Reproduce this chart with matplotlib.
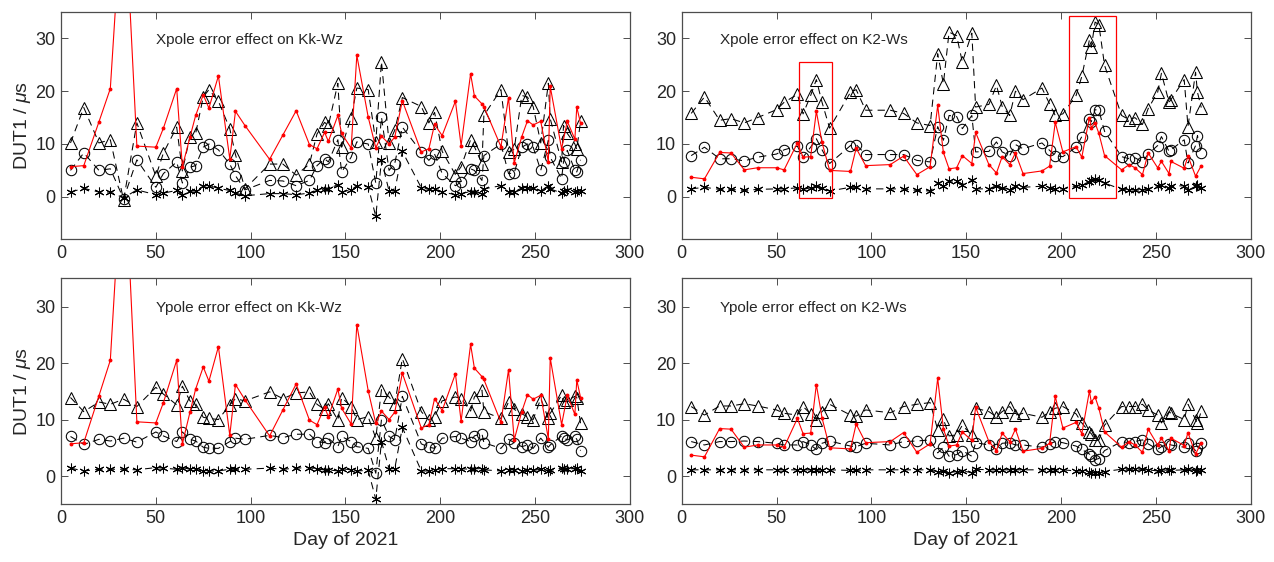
import numpy as np
import matplotlib
matplotlib.use("Agg")
import matplotlib.pyplot as plt
from matplotlib.patches import Rectangle

nan = np.nan

# ---------------- Kk-Wz baseline ----------------
kk_days = [5, 12, 20, 26, 33, 40, 50, 54, 61, 64, 68, 71, 75, 78, 83, 89, 92, 97,
           110, 117, 124, 131, 135, 139, 141, 146, 148, 153, 156, 162, 166, 169,
           173, 176, 180, 190, 194, 197, 201, 208, 211, 216, 218, 222, 223, 232,
           236, 239, 243, 246, 249, 253, 257, 258, 264, 265, 267, 271, 272, 274]
kk_red = [5.7, 5.9, 14.2, 20.5, 60.0, 9.6, 9.4, 13.0, 20.5, 5.7, 11.3, 15.4, 19.3,
          16.8, 22.9, 7.2, 16.2, 13.5, 7.1, 11.7, 16.3, 9.9, 9.1, 12.2, 10.5, 15.4,
          12.0, 9.2, 26.8, 15.1, 9.3, 11.5, 10.0, 11.3, 18.2, 8.5, 9.1, 13.7, 11.6,
          18.1, 9.7, 23.3, 19.1, 17.6, 17.1, 9.5, 18.8, 6.4, 11.4, 14.4, 13.6, 14.3,
          6.6, 20.9, 9.1, nan, 14.3, 10.9, 17.0, 13.9]
kk_x_tri = [10.2, 16.9, 10.2, 10.8, -0.6, 14.0, 3.9, 8.3, 13.2, 4.9, 11.4, 12.0,
            18.9, 20.3, 18.1, 12.9, 8.0, 1.5, 6.2, 6.2, 4.1, 6.2, 11.9, 14.1, 13.5,
            21.5, 9.4, 15.0, 20.6, 20.3, 10.4, 25.6, 10.2, 12.6, 18.8, 17.1, 14.0,
            16.0, 8.6, 4.2, 5.7, 10.8, 9.5, 6.3, 15.4, 20.3, 8.5, 9.0, 19.2, 18.9,
            17.1, 10.2, 21.5, 14.8, 6.6, 13.5, 12.0, 10.0, 9.0, 14.3]
kk_x_cir = [5.0, 8.3, 5.0, 5.3, -0.4, 7.0, 1.8, 4.4, 6.6, 2.6, 5.6, 5.9, 9.4, 10.0,
            8.9, 6.2, 4.0, 1.3, 3.1, 3.0, 2.1, 3.1, 5.9, 7.2, 6.6, 10.8, 4.7, 7.5,
            10.4, 10.0, 2.6, 15.1, 5.0, 6.3, 13.2, 8.5, 6.9, 8.1, 4.4, 2.1, 2.8,
            5.3, 5.0, 3.1, 7.8, 10.0, 4.4, 4.5, 9.4, 10.0, 9.4, 5.0, 10.7, 7.5, 3.4,
            6.6, 8.8, 5.0, 4.7, 7.0]
kk_x_ast = [0.9, 1.6, 0.9, 0.9, -0.2, 1.3, 0.4, 0.7, 1.2, 0.4, 1.1, 1.1, 2.0, 2.1,
            1.6, 1.2, 0.7, 0.2, 0.6, 0.6, 0.4, 0.7, 1.2, 1.5, 1.5, 2.3, 0.9, 1.3,
            2.1, 1.9, -3.7, 6.9, 1.1, 1.1, 8.6, 1.7, 1.4, 1.5, 0.9, 0.4, 0.6, 1.0,
            0.9, 0.6, 1.5, 2.1, 0.9, 0.9, 1.7, 1.6, 1.6, 1.1, 2.1, 1.5, 0.7, 1.1,
            1.2, 0.9, 1.1, 1.1]
kk_y_tri = [13.9, 11.4, 13.1, 12.7, 13.6, 12.3, 15.7, 14.5, 12.6, 15.9, 13.3, 12.8,
            10.4, 10.2, 10.0, 12.6, 13.7, 13.3, 14.9, 13.7, 14.7, 14.9, 12.7, 11.8,
            12.8, 9.9, 13.9, 12.3, 10.0, 10.5, 6.7, 15.3, 14.0, 12.7, 20.8, 11.4,
            9.9, 10.5, 13.3, 14.0, 13.7, 11.5, 14.0, 15.2, 11.4, 10.2, 13.1, 11.8,
            11.0, 10.5, 10.0, 13.7, 10.2, 11.1, 14.3, 13.1, 13.4, 14.1, 13.9, 9.3]
kk_y_cir = [7.0, 5.6, 6.5, 6.2, 6.7, 6.0, 7.8, 7.1, 6.1, 7.8, 6.5, 6.2, 5.1, 4.9,
            4.9, 6.1, 6.7, 6.5, 7.2, 6.8, 7.4, 7.4, 6.1, 5.9, 6.7, 5.2, 7.0, 6.1,
            5.2, 4.9, 0.5, 10.0, 7.0, 6.4, 14.1, 5.7, 5.1, 4.9, 6.7, 7.0, 6.7, 6.1,
            7.1, 7.5, 5.9, 4.9, 6.5, 5.9, 5.2, 5.5, 4.9, 6.7, 5.1, 5.5, 7.1, 6.7,
            6.4, 7.0, 6.5, 4.5]
kk_y_ast = [1.4, 0.9, 1.2, 1.2, 1.2, 1.1, 1.5, 1.4, 1.2, 1.5, 1.2, 1.2, 0.9, 0.9,
            0.9, 1.2, 1.2, 1.2, 1.4, 1.2, 1.4, 1.5, 1.2, 1.1, 1.1, 0.9, 1.3, 1.1,
            0.9, 1.0, -4.1, 6.1, 1.3, 1.3, 8.6, 0.9, 0.9, 1.1, 1.3, 1.3, 1.3, 1.2,
            1.3, 1.3, 1.1, 0.9, 1.1, 1.1, 0.9, 1.1, 1.0, 1.2, 0.9, 1.0, 1.4, 1.3,
            1.3, 1.3, 1.4, 0.9]

# ---------------- K2-Ws baseline ----------------
k2_days = [5, 12, 20, 26, 33, 40, 50, 54, 61, 64, 68, 71, 74, 78, 89, 92, 97, 110,
           117, 124, 131, 135, 138, 141, 145, 148, 153, 155, 162, 166, 169, 173,
           176, 180, 190, 194, 197, 201, 208, 211, 215, 216, 218, 220, 223, 232,
           236, 239, 243, 246, 251, 253, 257, 258, 265, 267, 271, 272, 274]
k2_red = [3.7, 3.4, 8.4, 8.3, 5.1, 5.5, 5.5, 5.1, 10.2, 7.5, 7.6, 16.2, 10.3, 5.0,
          4.8, 9.2, 5.9, 6.1, 7.7, 4.2, 5.7, 17.3, 8.4, 5.3, 5.5, 7.8, 6.3, 12.2,
          6.1, 4.5, 7.6, 6.1, 8.3, 4.4, 4.9, 5.8, 14.1, 8.5, 9.5, 7.5, 15.0, 13.1,
          14.0, 12.0, 7.8, 5.1, 6.1, 5.5, 4.2, 8.3, 5.5, 6.7, 4.4, 6.7, 5.4, 7.7,
          3.9, nan, 5.9]
k2_x_tri = [15.8, 18.9, 14.5, 14.8, 14.0, 15.0, 16.5, 17.9, 19.4, 15.7, 19.2, 22.2,
            17.9, 13.0, 19.8, 20.3, 16.4, 16.4, 15.8, 14.0, 13.5, 27.1, 21.4, 31.2,
            30.5, 25.5, 31.0, 17.0, 17.5, 21.1, 17.1, 15.4, 20.0, 18.4, 20.6, 17.6,
            15.4, 15.7, 19.2, 22.8, 29.7, 28.3, 33.1, 32.6, 24.9, 15.4, 14.6, 15.0,
            13.7, 16.7, 19.8, 23.4, 17.9, 18.4, 22.2, 13.3, 23.6, 19.8, 16.9]
k2_x_cir = [7.8, 9.4, 7.2, 7.2, 6.8, 7.5, 8.1, 8.9, 9.6, 7.5, 9.4, 11.0, 8.9, 6.3,
            9.7, 9.9, 8.0, 8.0, 8.0, 6.9, 6.6, 13.3, 10.7, 15.4, 15.2, 12.9, 15.4,
            8.5, 8.6, 10.4, 8.5, 7.8, 9.9, 9.1, 10.2, 8.8, 7.8, 7.6, 9.4, 11.4, 14.8,
            14.2, 16.5, 16.4, 12.4, 7.6, 7.2, 7.4, 6.6, 8.1, 9.7, 11.4, 8.6, 8.9,
            10.8, 6.4, 9.7, 11.6, 8.3]
k2_x_ast = [1.5, 1.8, 1.4, 1.4, 1.2, 1.4, 1.5, 1.5, 1.7, 1.4, 1.7, 2.1, 1.6, 1.1,
            1.8, 1.8, 1.5, 1.5, 1.5, 1.2, 1.1, 2.6, 2.1, 3.0, 2.9, 2.3, 3.1, 1.5,
            1.5, 2.1, 1.7, 1.3, 2.0, 1.8, 2.0, 1.7, 1.5, 1.5, 2.0, 2.3, 2.8, 3.1,
            3.4, 3.1, 2.6, 1.4, 1.3, 1.3, 1.2, 1.5, 2.1, 2.3, 1.7, 2.0, 2.1, 1.2,
            2.0, 2.3, 1.7]
k2_y_tri = [12.3, 10.8, 12.4, 12.4, 12.8, 12.4, 11.7, 11.1, 10.8, 12.3, 11.0, 10.0,
            11.4, 12.7, 10.8, 10.6, 11.7, 11.2, 12.3, 12.7, 13.0, 8.2, 10.1, 7.1,
            7.3, 9.0, 7.2, 12.0, 11.4, 10.5, 11.4, 12.3, 10.8, 11.1, 10.4, 11.4,
            12.0, 12.3, 11.0, 9.4, 7.8, 7.5, 6.4, 6.4, 9.0, 12.3, 12.3, 12.3, 12.7,
            11.7, 10.8, 9.4, 11.4, 11.1, 10.0, 12.7, 10.0, 9.3, 11.5]
k2_y_cir = [6.1, 5.5, 6.1, 6.1, 6.2, 6.1, 5.8, 5.5, 5.5, 6.1, 5.5, 4.7, 5.8, 6.2,
            5.3, 5.2, 5.8, 5.5, 6.1, 6.2, 6.4, 4.1, 5.1, 3.5, 3.8, 4.5, 3.5, 5.9,
            5.5, 4.7, 5.8, 5.9, 5.5, 5.5, 5.1, 5.7, 6.1, 5.9, 5.3, 4.7, 3.9, 3.5,
            2.9, 3.1, 4.5, 6.1, 5.9, 6.1, 6.4, 5.7, 4.7, 5.2, 5.7, 5.5, 5.1, 5.9,
            4.5, 5.0, 5.8]
k2_y_ast = [1.1, 1.1, 1.1, 1.1, 1.1, 1.1, 1.1, 1.1, 1.1, 1.1, 1.1, 1.0, 1.1, 1.1,
            1.0, 1.0, 1.1, 1.1, 1.1, 1.1, 1.1, 0.7, 0.9, 0.6, 0.8, 0.9, 0.6, 1.2,
            1.1, 1.1, 1.1, 1.1, 1.1, 1.1, 1.1, 1.1, 1.1, 1.1, 0.9, 0.9, 0.7, 0.6,
            0.6, 0.6, 0.8, 1.2, 1.2, 1.2, 1.2, 1.1, 0.9, 1.1, 1.0, 1.0, 1.1, 1.2,
            0.9, 1.0, 1.0]

panel_titles = ["Xpole error effect on Kk-Wz", "Xpole error effect on K2-Ws",
                "Ypole error effect on Kk-Wz", "Ypole error effect on K2-Ws"]
x_ticks = [0, 50, 100, 150, 200, 250, 300]
y_ticks = [0, 10, 20, 30]
# highlighted windows on K2-Ws Xpole panel: (day start, day end, low, high)
box_days = [(62, 79), (204, 229)]
box_vals = [(-0.3, 25.6), (-0.3, 34.3)]

plt.rcParams['font.family'] = ['Liberation Sans', 'DejaVu Sans']
plt.rcParams['mathtext.fontset'] = 'custom'
plt.rcParams['mathtext.it'] = 'Liberation Sans:italic'
plt.rcParams['mathtext.rm'] = 'Liberation Sans'

AX_COL = '#4d4d4d'
TXT_COL = '#262626'

fig = plt.figure(figsize=(12.74, 5.62), dpi=100)
L_left, R_left, W = 0.0479, 0.5351, 0.4465
top_b, top_h = 0.5747, 0.4039
bot_b, bot_h = 0.1027, 0.4021
axes = [fig.add_axes([L_left, top_b, W, top_h]),
        fig.add_axes([R_left, top_b, W, top_h]),
        fig.add_axes([L_left, bot_b, W, bot_h]),
        fig.add_axes([R_left, bot_b, W, bot_h])]

panels = [
    (kk_days, kk_red, kk_x_tri, kk_x_cir, kk_x_ast, 50),
    (k2_days, k2_red, k2_x_tri, k2_x_cir, k2_x_ast, 20),
    (kk_days, kk_red, kk_y_tri, kk_y_cir, kk_y_ast, 50),
    (k2_days, k2_red, k2_y_tri, k2_y_cir, k2_y_ast, 20),
]

dash = (0, (7, 5))
for i, (ax, (days, red, tri, cir, ast, tx)) in enumerate(zip(axes, panels)):
    d = np.array(days, dtype=float)
    r = np.array(red, dtype=float)
    m = np.isfinite(r)
    common = dict(color='black', lw=0.75, linestyle=dash, mfc='none', mec='black', mew=0.75)
    ax.plot(d, tri, marker='^', ms=8, **common)
    ax.plot(d, cir, marker='o', ms=7.5, **common)
    ax.plot(d, ast, marker=(6, 2, 0), ms=7, **common)
    ax.plot(d[m], r[m], color='#ff0000', lw=0.8, marker='o', ms=1.8, mfc='#ff0000',
            mec='#ff0000')
    ax.set_xlim(0, 300)
    if i < 2:
        ax.set_ylim(-8, 35)
    else:
        ax.set_ylim(-5, 35)
    ax.set_xticks(x_ticks)
    ax.set_yticks(y_ticks)
    ax.tick_params(direction='in', top=True, right=True, length=5, width=0.7,
                   colors=AX_COL, labelcolor=TXT_COL, labelsize=13, pad=4)
    for s in ax.spines.values():
        s.set_color(AX_COL)
        s.set_linewidth(0.9)
    ax.text(tx, 29.7, panel_titles[i], fontsize=11, color=TXT_COL,
            ha='left', va='center')
    if i % 2 == 0:
        ax.set_ylabel(r'DUT1 / $\mu$s', fontsize=14, color=TXT_COL, labelpad=2)
    if i >= 2:
        ax.set_xlabel('Day of 2021', fontsize=14, color=TXT_COL, labelpad=4)

for (d0, d1), (v0, v1) in zip(box_days, box_vals):
    axes[1].add_patch(Rectangle((d0, v0), d1 - d0, v1 - v0, fill=False,
                                edgecolor='#ff0000', lw=0.9, zorder=5))

fig.savefig('out.png', dpi=100)
